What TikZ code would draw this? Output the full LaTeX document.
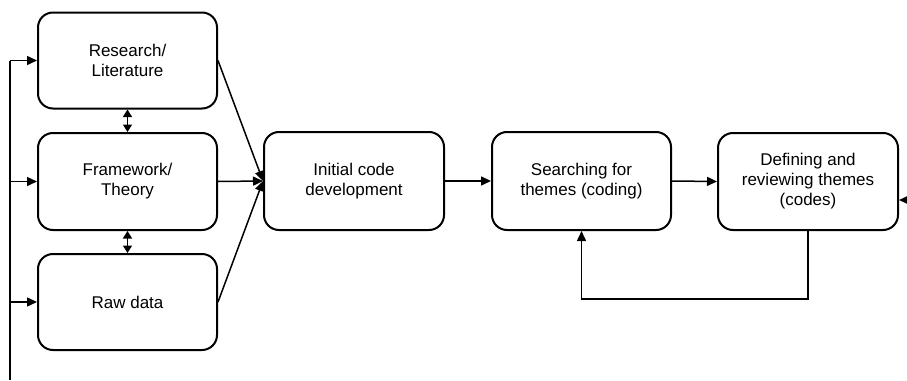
\documentclass[tikz,border=0pt]{standalone}
\usepackage{fontspec}
\setmainfont{Liberation Sans}
\usetikzlibrary{arrows.meta}
\begin{document}
\begin{tikzpicture}[x=1pt,y=-1pt,
  box/.style={draw, line width=2pt, rounded corners=15pt, align=center,
    font=\fontsize{17}{20}\selectfont, inner sep=0pt},
  arr/.style={line width=1.5pt, -{Triangle[length=10pt,width=9pt]}},
  darr/.style={line width=1.5pt, {Triangle[length=7.5pt,width=9pt]}-{Triangle[length=7.5pt,width=9pt]}},
  ln/.style={line width=1.5pt}]
\useasboundingbox (0,0) rectangle (907,380);
\node[box, minimum width=179pt, minimum height=96pt] (res) at (127.5,60.5) {Research/\\Literature};
\node[box, minimum width=179pt, minimum height=97pt] (fw) at (127.5,181.5) {Framework/\\Theory};
\node[box, minimum width=179pt, minimum height=96pt] (raw) at (127.5,302) {Raw data};
\node[box, minimum width=180pt, minimum height=98pt] (init) at (354,181) {Initial code\\development};
\node[box, minimum width=179pt, minimum height=98pt] (srch) at (581.5,181) {Searching for\\themes (coding)};
\node[box, minimum width=180pt, minimum height=97pt] (def) at (808,181.5) {Defining and\\reviewing themes\\(codes)};
\coordinate (lb) at (10,380);
\coordinate (lt) at (10,60.5);
\coordinate (rin) at (907,200);
\coordinate (fb) at (808,299);
% left feed line
\draw[ln] (lb) -- (lt);
\draw[arr] (lt) -- (res.west);
\draw[arr] (lt|-fw.west) -- (fw.west);
\draw[arr] (lt|-raw.west) -- (raw.west);
% double arrows
\draw[darr] (res.south) -- (fw.north);
\draw[darr] (fw.south) -- (raw.north);
% converging
\draw[arr] (res.east) -- (init.west);
\draw[arr] (fw.east) -- (init.west);
\draw[arr] (raw.east) -- (init.west);
% main flow
\draw[arr] (init.east) -- (srch.west);
\draw[arr] (srch.east) -- (def.west);
% right incoming
\draw[arr] (rin) -- (def.east|-rin);
% feedback
\draw[arr] (def.south) -- (fb) -| (srch.south);
\end{tikzpicture}
\end{document}
